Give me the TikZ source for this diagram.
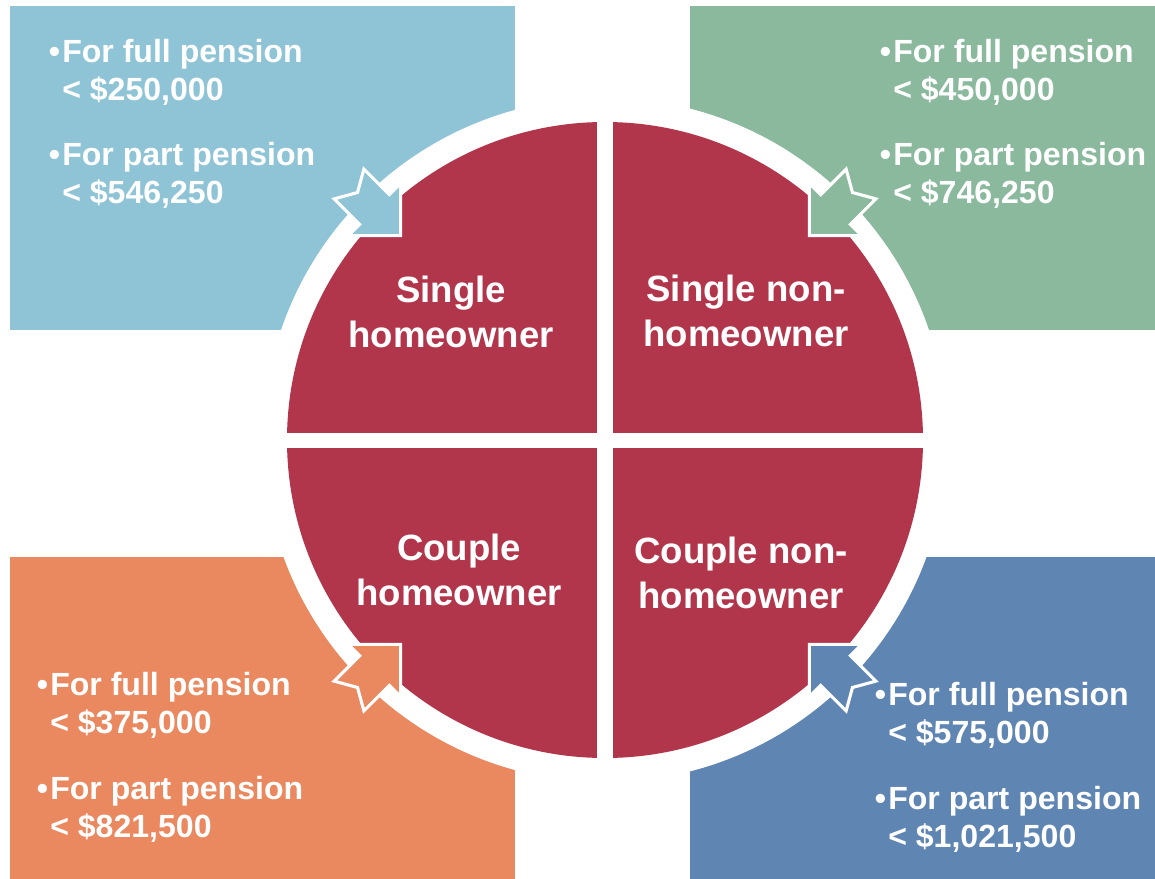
\documentclass[tikz,border=0pt]{standalone}
\usepackage{fontspec}
\setmainfont{Liberation Sans}

\definecolor{skyblue}{RGB}{143,196,214}
\definecolor{sagegreen}{RGB}{138,185,157}
\definecolor{salmon}{RGB}{234,137,96}
\definecolor{steelblue}{RGB}{95,133,178}
\definecolor{wine}{RGB}{178,54,75}

\tikzset{
	quad label/.style={text=white, font=\fontsize{26}{32}\selectfont\bfseries, align=center},
	limit text/.style={text=white, font=\fontsize{22.8}{27}\selectfont\bfseries, align=left, anchor=west, inner sep=0pt},
	notch arrow/.style={draw=white, line width=2.2pt, miter limit=4},
}

% hanging bullet
\newcommand\hbul{\llap{•\kern1.5pt}}

% notched arrow pointing into the ring: angle, colour
\newcommand\inarrow[2]{%
	\begin{scope}[shift={(605,440)}, rotate=#1]
		\filldraw[notch arrow, fill=#2] (289,0) -- (326,37) -- (326,21) -- (362,21) -- (350,0) -- (362,-21) -- (326,-21) -- (326,-37) -- cycle;
	\end{scope}}

\begin{document}
\begin{tikzpicture}[x=0.025cm, y=-0.025cm]
	\useasboundingbox[fill=white] (0,0) rectangle (1155,879);
	% corner panels
	\fill[skyblue] (10,6) rectangle (515,330);
	\fill[sagegreen] (690,6) rectangle (1155,330);
	\fill[salmon] (10,557) rectangle (515,879);
	\fill[steelblue] (690,557) rectangle (1155,879);
	% ring and quarters
	\coordinate (c) at (605,440);
	\fill[white] (c) circle (342);
	\fill[wine] (c) circle (318);
	\fill[white] (596.5,110) rectangle (613,770);
	\fill[white] (270,432.5) rectangle (940,447.5);
	% arrows
	\inarrow{135}{skyblue}
	\inarrow{45}{sagegreen}
	\inarrow{225}{salmon}
	\inarrow{315}{steelblue}
	% quarter labels
	\node[quad label] (sh) at (451,312) {Single\\homeowner};
	\node[quad label] (snh) at (746,311) {Single non-\\homeowner};
	\node[quad label] (ch) at (459,570) {Couple\\homeowner};
	\node[quad label] (cnh) at (741,573) {Couple non-\\homeowner};
	% limits
	\node[limit text] (shfull) at (62,72) {\hbul For full pension\\< \$250,000};
	\node[limit text] (shpart) at (62,175) {\hbul For part pension\\< \$546,250};
	\node[limit text] (snhfull) at (893,72) {\hbul For full pension\\< \$450,000};
	\node[limit text] (snhpart) at (893,175) {\hbul For part pension\\< \$746,250};
	\node[limit text] (chfull) at (50,705) {\hbul For full pension\\< \$375,000};
	\node[limit text] (chpart) at (50,809) {\hbul For part pension\\< \$821,500};
	\node[limit text] (cnhfull) at (888,715) {\hbul For full pension\\< \$575,000};
	\node[limit text] (cnhpart) at (888,819) {\hbul For part pension\\< \$1,021,500};
\end{tikzpicture}
\end{document}
